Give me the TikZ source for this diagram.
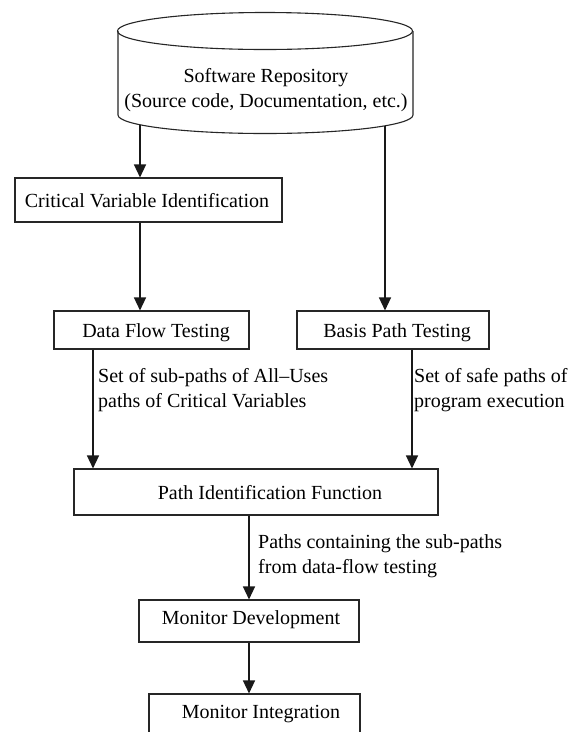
\documentclass[tikz,border=0pt]{standalone}
\usepackage{fontspec}
\setmainfont{LiberationSerif}[Extension=.ttf, UprightFont=*-Regular, BoldFont=*-Bold, ItalicFont=*-Italic, BoldItalicFont=*-BoldItalic]
\usetikzlibrary{arrows.meta}
\begin{document}
\begin{tikzpicture}[x=1pt,y=-1pt,
  box/.style={draw=black!85, line width=1.1pt, inner sep=0pt},
  txt/.style={font=\rmfamily\fontsize{20}{25}\selectfont, inner sep=0pt, anchor=base},
  lbl/.style={font=\rmfamily\fontsize{20}{25}\selectfont, inner sep=0pt, align=left, anchor=west},
  arr/.style={draw=black!90, line width=1.4pt, -{Triangle[length=13pt,width=12pt]}}]
\useasboundingbox (0,0) rectangle (583,732);
\clip (0,0) rectangle (583,732);
\fill[white] (0,0) rectangle (583,732);
% repository cylinder
\draw[black!85, line width=1.1pt] (265,31) ellipse [x radius=147.5pt, y radius=18.5pt];
\draw[black!85, line width=1.1pt] (118,31) -- (118,115)
  .. controls (118,125.2) and (183.5,133.5) .. (265,133.5)
  .. controls (346.5,133.5) and (413,125.2) .. (413,115) -- (413,31);
\node[font=\rmfamily\fontsize{20}{25}\selectfont, inner sep=0pt, align=center] (repo) at (266,90)
  {Software Repository\\(Source code, Documentation, etc.)};
\coordinate (rL) at (140,125);
\coordinate (rR) at (385,126);
% boxes
\node[box, minimum width=267pt, minimum height=44pt] (cvi) at (148.5,200) {};
\node[txt] (cvit) at (147,207) {Critical Variable Identification};
\node[box, minimum width=195pt, minimum height=38pt] (dft) at (151.5,330) {};
\node[txt] (dftt) at (156,337) {Data Flow Testing};
\node[box, minimum width=192pt, minimum height=38pt] (bpt) at (393,330) {};
\node[txt] (bptt) at (397,337) {Basis Path Testing};
\node[box, minimum width=364pt, minimum height=46pt] (pif) at (256,492) {};
\node[txt] (pift) at (270,499) {Path Identification Function};
\node[box, minimum width=220pt, minimum height=42pt] (mdv) at (249,621) {};
\node[txt] (mdvt) at (251,624) {Monitor Development};
\node[box, minimum width=211pt, minimum height=60pt] (mig) at (254.5,724) {};
\node[txt] (migt) at (261,718) {Monitor Integration};
% x positions of connectors
\coordinate (xa) at (93,0);
\coordinate (xb) at (412,0);
\coordinate (xc) at (249,0);
% connectors
\draw[arr] (rL) -- (rL |- cvi.north);
\draw[arr] (rR) -- (rR |- bpt.north);
\draw[arr] (cvi.south -| rL) -- (dft.north -| rL);
\draw[arr] (dft.south -| xa) -- (pif.north -| xa);
\draw[arr] (bpt.south -| xb) -- (pif.north -| xb);
\draw[arr] (pif.south -| xc) -- (mdv.north -| xc);
\draw[arr] (mdv.south -| xc) -- (mig.north -| xc);
% labels
\node[lbl] (l1) at (98,390) {Set of sub-paths of All\textendash Uses\\paths of Critical Variables};
\node[lbl] (l2) at (414,390) {Set of safe paths of\\program execution};
\node[lbl] (l3) at (258,556) {Paths containing the sub-paths\\from data-flow testing};
\end{tikzpicture}
\end{document}
